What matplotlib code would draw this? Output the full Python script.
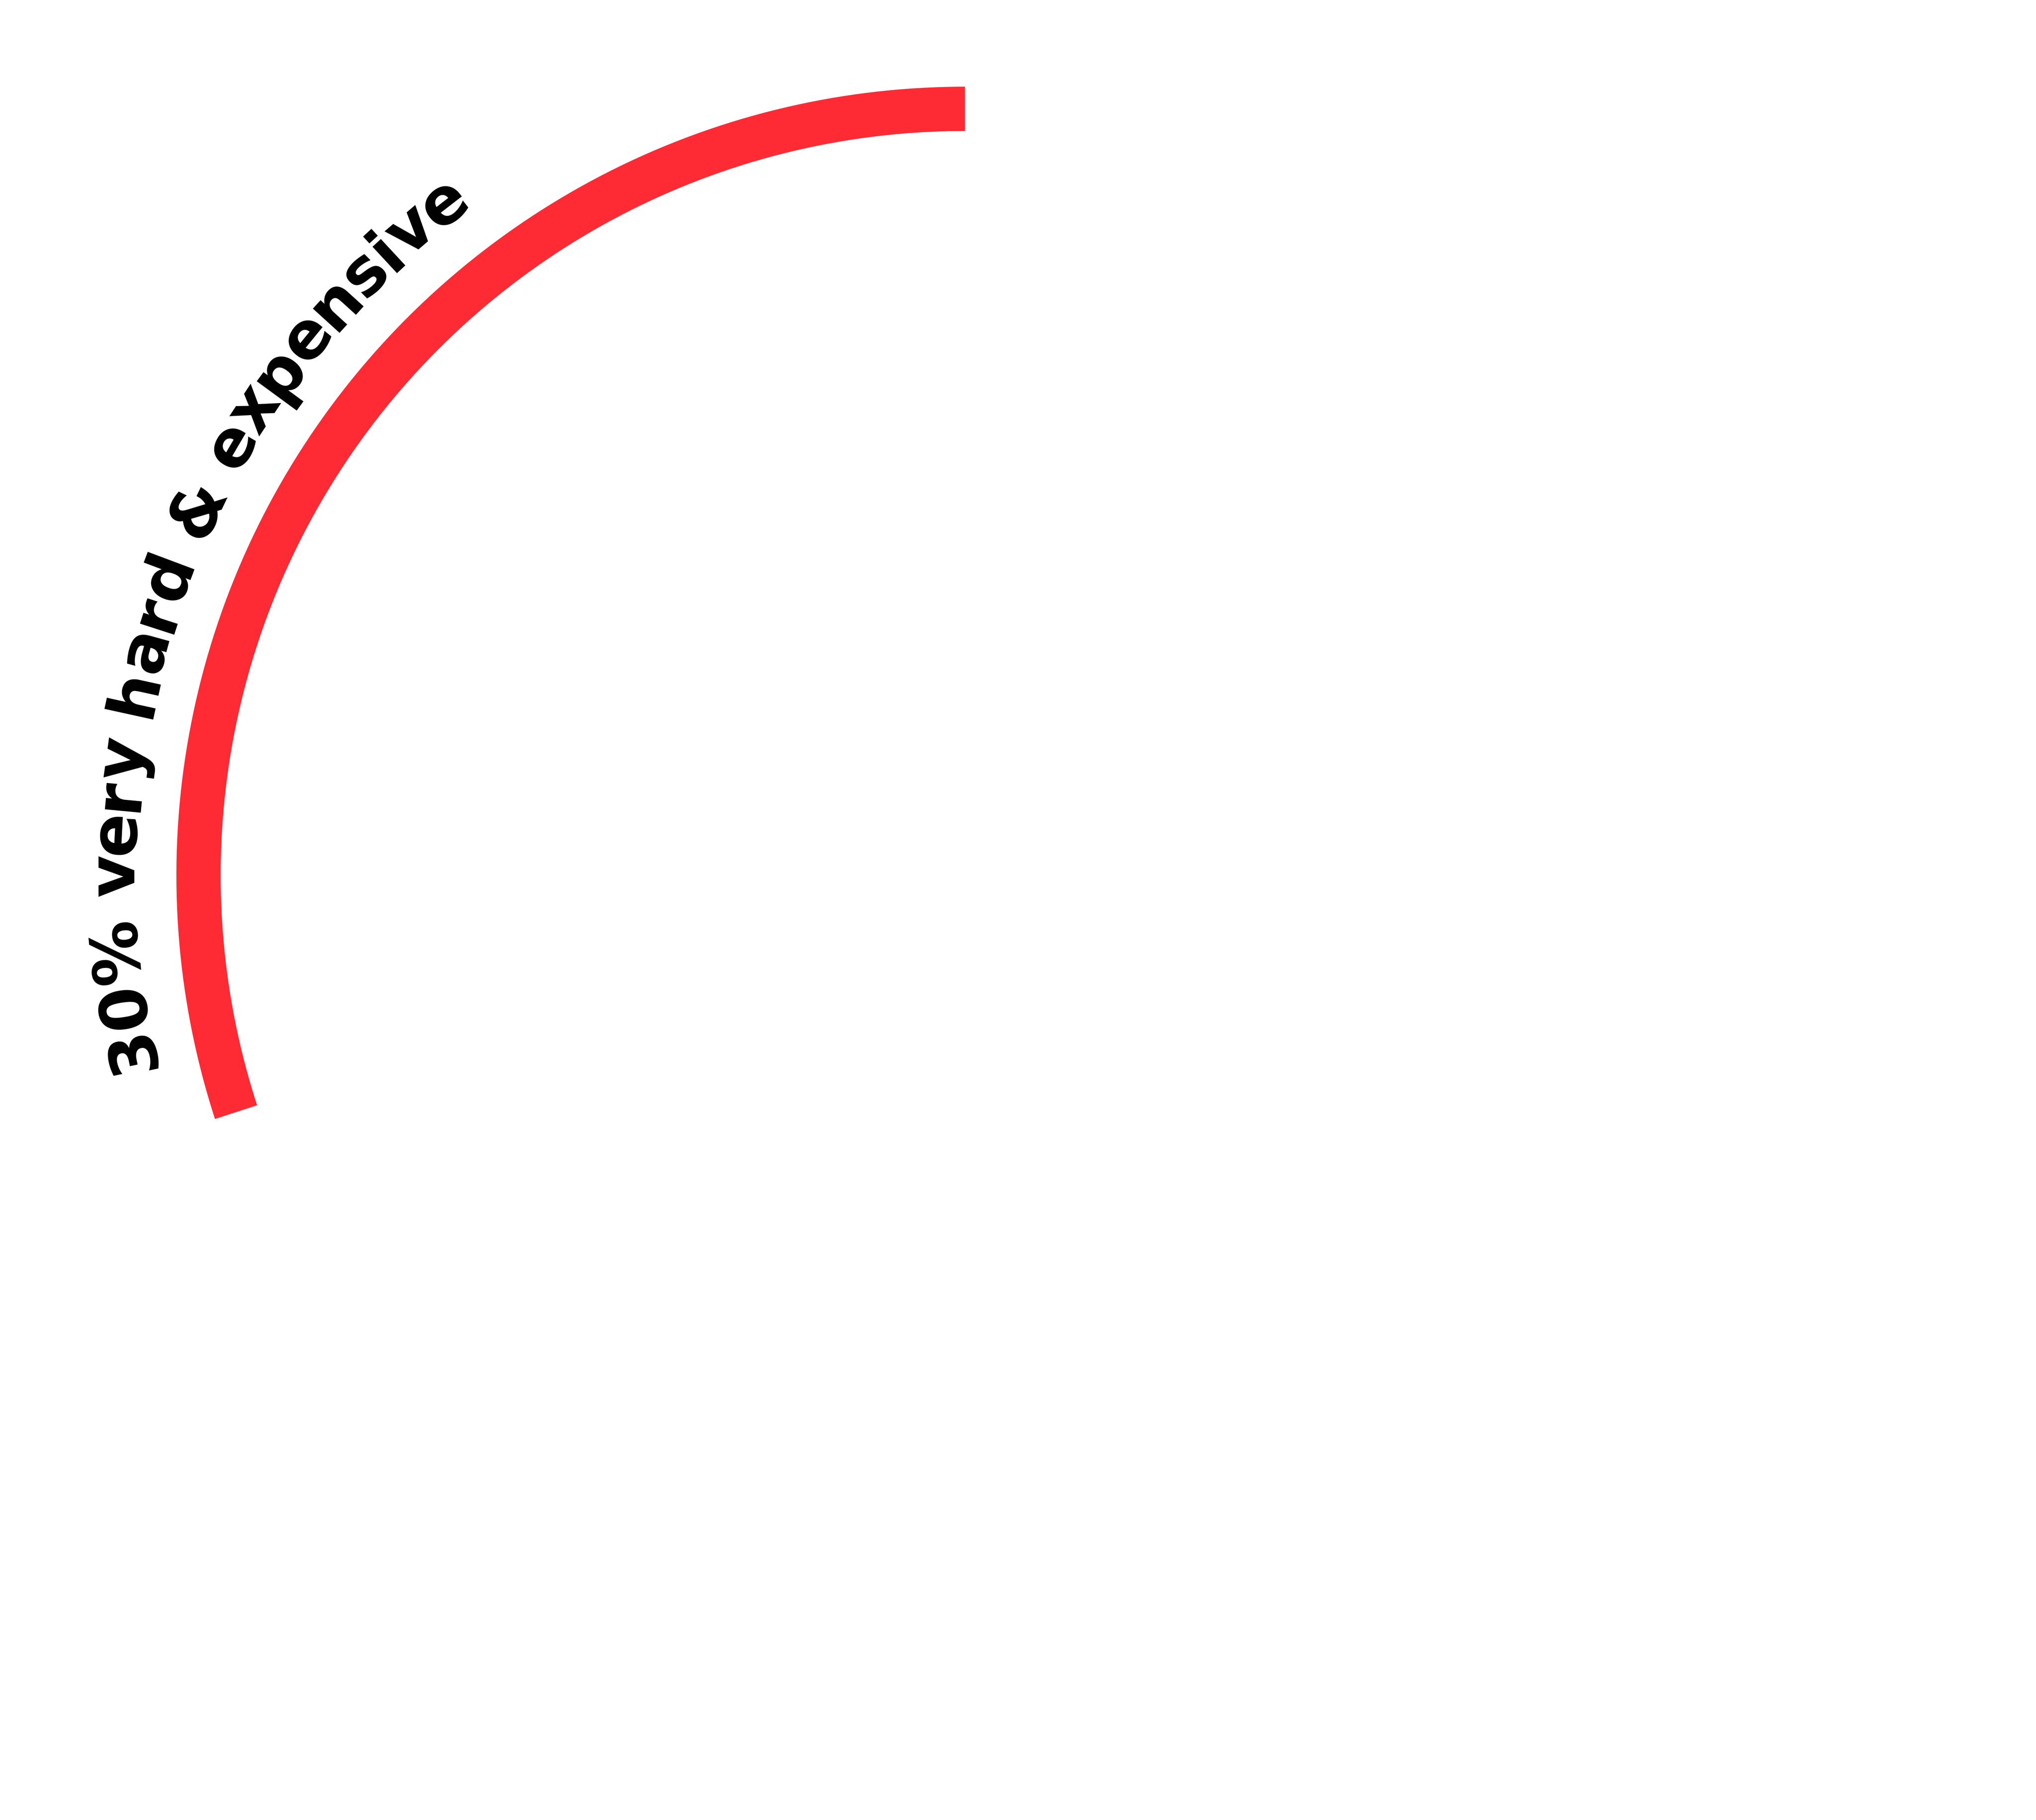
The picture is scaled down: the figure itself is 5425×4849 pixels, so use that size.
import numpy as np
import matplotlib
matplotlib.use("Agg")
import matplotlib.pyplot as plt
from matplotlib.patches import Wedge
from matplotlib import font_manager as fm

# ----- data -----
pcts = [30]
labels = ["30% very hard & expensive"]
colors = ["#ff2b34"]

# ----- layout (pixel coordinates, y up) -----
W, H, DPI = 5425, 4849, 100
cx, cy = 2571, H - 2332
r_outer, ring_w = 2101, 118
r_base = 2215          # baseline radius of the curved label
r_space = 2289         # radius used to turn char widths into angles
start_angle = 193.35   # where the label starts (deg)
fs = 125

fig = plt.figure(figsize=(W / DPI, H / DPI), dpi=DPI)
ax = fig.add_axes([0, 0, 1, 1])
ax.set_xlim(0, W)
ax.set_ylim(0, H)
ax.axis("off")

theta = 90
for pct, col in zip(pcts, colors):
    span = pct * 3.6
    ax.add_patch(Wedge((cx, cy), r_outer, theta, theta + span, width=ring_w,
                       facecolor=col, edgecolor="none"))
    theta += span

# ----- curved text, one char at a time -----
prop = fm.FontProperties(family="DejaVu Sans", weight="bold")
font = fm.get_font(fm.findfont(prop))
font.set_size(fs, DPI)
text = labels[0]
adv = []
for ch in text:
    g = font.load_char(ord(ch))
    adv.append(g.linearHoriAdvance / 65536)

pos = 0.0
for ch, a in zip(text, adv):
    mid = pos + a / 2
    ang = start_angle - np.degrees(mid / r_space)
    x = cx + r_base * np.cos(np.radians(ang))
    y = cy + r_base * np.sin(np.radians(ang))
    if ch != " ":
        ax.text(x, y, ch, fontsize=fs, fontweight="bold", family="DejaVu Sans",
                rotation=ang - 90, rotation_mode="anchor",
                ha="center", va="baseline", color="black")
    pos += a

fig.savefig("out.png", dpi=DPI, facecolor="white")
